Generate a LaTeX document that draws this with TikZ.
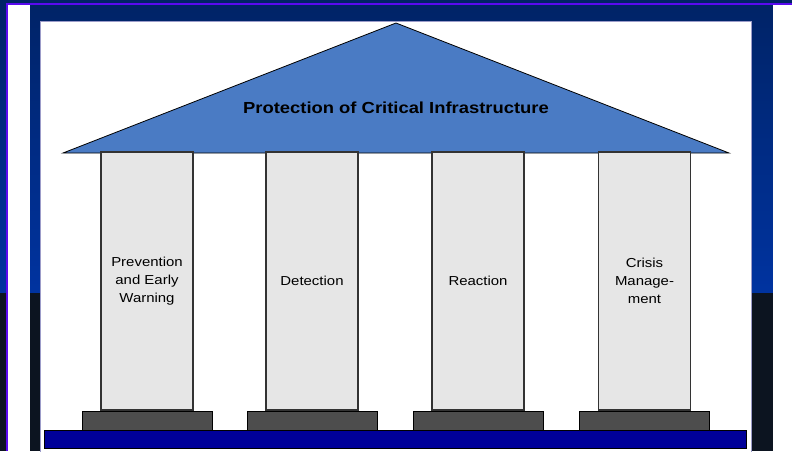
\documentclass[tikz,border=0pt]{standalone}
\usepackage{fontspec}
\setmainfont{Liberation Sans}
\newfontfamily\widesans[FakeStretch=1.15]{Liberation Sans}
\usetikzlibrary{positioning}
\definecolor{navytop}{HTML}{002366}
\definecolor{navymid}{HTML}{0033A0}
\definecolor{nightblue}{HTML}{0C1420}
\definecolor{violetline}{HTML}{5A0AF0}
\definecolor{roofblue}{HTML}{4A7BC4}
\definecolor{pillargray}{HTML}{E6E6E6}
\definecolor{basegray}{HTML}{4D4D4D}
\definecolor{floorblue}{HTML}{000099}

\tikzset{
  pillar/.style={draw=black!80, line width=1.2pt, fill=pillargray,
    minimum width=92pt, minimum height=258pt, inner sep=0pt,
    align=center, font=\widesans\fontsize{13}{18}\selectfont},
  plinth/.style={draw=black, line width=1pt, fill=basegray,
    minimum width=130pt, minimum height=20pt, inner sep=0pt},
}

\begin{document}
\begin{tikzpicture}[x=1pt, y=-1pt]
  \useasboundingbox (0,0) rectangle (792,451);

  % backdrop of the slide
  \shade[top color=navytop, bottom color=navymid] (0,0) rectangle (792,293);
  \fill[nightblue] (0,293) rectangle (792,451);
  \fill[white] (7,5) rectangle (30,451);
  \fill[white] (773,5) rectangle (792,451);
  \fill[violetline] (6,3) rectangle (792,5);
  \fill[violetline] (6,3) rectangle (8,451);
  \filldraw[fill=white, draw=blue!30!gray!60] (40,21) rectangle (751,452);

  % roof
  \filldraw[fill=roofblue, draw=black, line width=0.8pt] (63,153) -- (396,23) -- (729,153) -- cycle;
  \node (title) at (396,108) {\widesans\fontsize{16}{18}\selectfont\bfseries Protection of Critical Infrastructure};

  % pillars
  \node[pillar] (prev)   at (147,281)   {Prevention\\and Early\\Warning};
  \node[pillar] (detect) at (312,281)   {Detection};
  \node[pillar] (react)  at (478,281)   {Reaction};
  \node[pillar] (crisis) at (644.5,281) {Crisis\\Manage-\\ment};

  % plinths
  \node[plinth, below=0pt of prev]   (prevbase)   {};
  \node[plinth, below=0pt of detect] (detectbase) {};
  \node[plinth, below=0pt of react]  (reactbase)  {};
  \node[plinth, below=0pt of crisis] (crisisbase) {};

  % floor
  \node[draw=black, line width=1pt, fill=floorblue, minimum width=702pt,
    minimum height=18pt, inner sep=0pt] (floor) at (395,439) {};

\end{tikzpicture}
\end{document}
